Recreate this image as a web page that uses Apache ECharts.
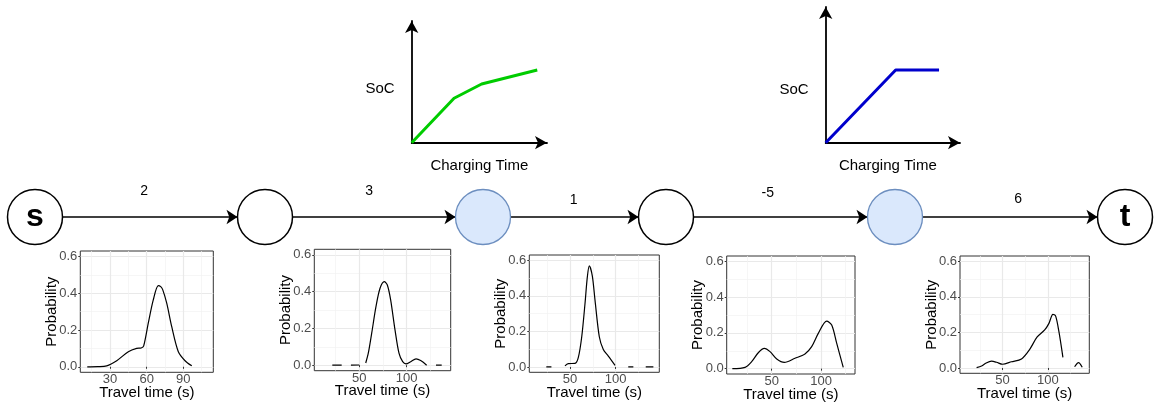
<!DOCTYPE html>
<html><head><meta charset="utf-8">
<script src="https://cdn.jsdelivr.net/npm/echarts@6/dist/echarts.min.js"></script>
<style>html,body{margin:0;padding:0;background:#fff}#c{width:1168px;height:409px}</style>
</head><body><div id="c"></div>
<script>
// ---------------- data ----------------
const nodeLabels = ['s', '', '', '', '', 't'];
const chargingNodes = [false, false, true, false, true, false];
const edgeWeights = [2, 3, 1, -5, 6];

const socName = 'SoC';
const chargeName = 'Charging Time';
const socCurveA = [[0, 0], [3.13, 3.65], [5.17, 4.82], [9.28, 5.97]];
const socCurveB = [[0, 0], [5.21, 5.36], [8.44, 5.36]];

const probName = 'Probability';
const travelName = 'Travel time (s)';
const probTicks = [0, 0.2, 0.4, 0.6];
const probMinor = [0.1, 0.3, 0.5];
const travelTicks1 = [30, 60, 90];
const travelMinor1 = [15, 45, 75, 105];
const travelTicks = [50, 100];
const travelMinor = [25, 75, 125];

const density1 = [
  [[11.4,0],[20,0.001],[27.3,0.005],[35.5,0.033],[45,0.082],[51.8,0.1],[55.5,0.102],[57.5,0.112],[61.3,0.237],[65.4,0.364],[69.5,0.442],[71.5,0.436],[73.1,0.42],[76.4,0.346],[80.5,0.218],[85.9,0.082],[91.4,0.033],[96.9,0.005]]
];
const density2 = [
  [[21.5,0],[31.4,0]],
  [[41.2,0],[50,0.001]],
  [[56.8,0.012],[59.5,0.065],[63.1,0.174],[67.6,0.318],[71.9,0.418],[76.4,0.454],[79.6,0.436],[83.1,0.355],[87.7,0.192],[91.9,0.065],[95.8,0.019],[99.3,0.007],[104.3,0.019],[109.9,0.034],[114.8,0.025],[121.1,0]],
  [[131,0],[137,0]]
];
const density3 = [
  [[24,0],[29.6,0]],
  [[44.5,0.006],[48.1,0.019],[55.5,0.02],[59.1,0.052],[62.9,0.17],[66.5,0.357],[69,0.504],[71.2,0.569],[74.5,0.513],[77.5,0.375],[82.2,0.17],[86.6,0.098],[92.1,0.061],[99.5,0.009]],
  [[114,0],[119.6,0]],
  [[133.2,0],[141.6,0]]
];
const density4 = [
  [[10.1,0],[23,0.007],[29.7,0.039],[36.4,0.089],[42.5,0.113],[48.3,0.095],[55.1,0.054],[62.8,0.035],[73.6,0.058],[83.7,0.082],[90.5,0.123],[97.2,0.197],[105.7,0.266],[110.8,0.244],[115.9,0.141],[122.5,0.007]]
];
const density5 = [
  [[21.4,0.002],[26.9,0.011],[32,0.028],[37.9,0.038],[43.4,0.032],[50,0.021],[59.9,0.035],[70.9,0.051],[80,0.105],[88,0.173],[96.5,0.214],[101.2,0.251],[105.6,0.302],[108.6,0.292],[112.2,0.204],[116.6,0.06]],
  [[129.5,0.007],[133.8,0.03],[137.9,0.004]]
];

// ---------------- layout (not data) ----------------
const FONT = "'Liberation Sans', Arial, Helvetica, sans-serif";
const nodeX = [35, 265, 483, 666, 895, 1125];
const nodeY = 217;
const edgeLabelOffsets = [[8, -14], [9, -14], [13, -5], [1, -12], [22, -6]];

const panels = [
  {rect: [80.3, 251, 133, 121.3], x: [5.7, 114.5], ticks: travelTicks1, minor: travelMinor1, data: density1},
  {rect: [314.3, 249.3, 136.4, 121.4], x: [2.5, 146.5], ticks: travelTicks, minor: travelMinor, data: density2},
  {rect: [529.3, 255, 130, 117.3], x: [5.3, 148.1], ticks: travelTicks, minor: travelMinor, data: density3},
  {rect: [726.7, 256, 128.3, 118], x: [4.4, 134.4], ticks: travelTicks, minor: travelMinor, data: density4},
  {rect: [960, 256, 129.3, 117.3], x: [3.1, 145.7], ticks: travelTicks, minor: travelMinor, data: density5}
];

const grid = [], xAxis = [], yAxis = [], series = [];

// canvas grid for the network
grid.push({left: 0, top: 0, right: 0, bottom: 0, show: false});
xAxis.push({gridIndex: 0, type: 'value', min: 0, max: 1168, show: false});
yAxis.push({gridIndex: 0, type: 'value', min: 0, max: 409, inverse: true, show: false});

// SoC charts
function socAxes(gi, rect, curve, color, nameLH, xNamePad) {
  grid.push({left: rect[0], top: rect[1], width: rect[2], height: rect[3], show: false});
  const line = {show: true, symbol: ['none', 'arrow'], symbolSize: [10, 12], lineStyle: {color: '#000', width: 1.8}};
  xAxis.push({gridIndex: gi, type: 'value', min: 0, max: 10, axisLine: line, axisTick: {show: false},
    axisLabel: {show: false}, splitLine: {show: false}, nameMoveOverlap: false,
    name: chargeName, nameLocation: 'middle', nameGap: 16,
    nameTextStyle: {fontSize: 15, color: '#000', fontFamily: FONT, padding: xNamePad}});
  yAxis.push({gridIndex: gi, type: 'value', min: 0, max: 10, axisLine: line, axisTick: {show: false},
    axisLabel: {show: false}, splitLine: {show: false}, nameMoveOverlap: false,
    name: socName, nameLocation: 'middle', nameRotate: 0, nameGap: 17,
    nameTextStyle: {fontSize: 15, color: '#000', fontFamily: FONT, verticalAlign: 'top', lineHeight: nameLH}});
  series.push({type: 'line', xAxisIndex: gi, yAxisIndex: gi, data: curve, showSymbol: false, silent: true,
    lineStyle: {color: color, width: 3}, z: 3});
}
socAxes(1, [411.7, 21, 135.3, 121.7], socCurveA, '#00cc00', 14, [0, 0, 0, 0]);
socAxes(2, [825.7, 7, 134.3, 135.7], socCurveB, '#0000cc', 30, [0, 10, 0, 0]);

// density panels
panels.forEach((p, k) => {
  const gi = 3 + k;
  const ax = 3 + 2 * k;
  grid.push({left: p.rect[0], top: p.rect[1], width: p.rect[2], height: p.rect[3], show: true,
    borderColor: '#333', borderWidth: 1, backgroundColor: 'transparent'});
  xAxis.push({gridIndex: gi, type: 'value', min: p.x[0], max: p.x[1],
    axisLine: {show: false}, nameMoveOverlap: false,
    axisTick: {show: true, length: 2, lineStyle: {color: '#333'}, customValues: p.ticks},
    axisLabel: {show: true, customValues: p.ticks, color: '#4D4D4D', fontSize: 13, margin: 1, fontFamily: FONT},
    splitLine: {show: true, lineStyle: {color: '#E9E9E9', width: 1.2}},
    name: travelName, nameLocation: 'middle', nameGap: 13,
    nameTextStyle: {fontSize: 15, color: '#000', fontFamily: FONT}});
  xAxis.push({gridIndex: gi, type: 'value', min: p.x[0], max: p.x[1],
    axisLine: {show: false}, axisTick: {show: false, customValues: p.minor}, axisLabel: {show: false},
    splitLine: {show: true, lineStyle: {color: '#F2F2F2', width: 0.7}}});
  yAxis.push({gridIndex: gi, type: 'value', min: -0.03, max: 0.63,
    axisLine: {show: false}, nameMoveOverlap: false,
    axisTick: {show: true, length: 2, lineStyle: {color: '#333'}, customValues: probTicks},
    axisLabel: {show: true, customValues: probTicks, color: '#4D4D4D', fontSize: 13, margin: 3, fontFamily: FONT,
      formatter: v => Number(v).toFixed(1)},
    splitLine: {show: true, lineStyle: {color: '#E9E9E9', width: 1.2}},
    name: probName, nameLocation: 'middle', nameGap: 21,
    nameTextStyle: {fontSize: 15, color: '#000', fontFamily: FONT}});
  yAxis.push({gridIndex: gi, type: 'value', min: -0.03, max: 0.63,
    axisLine: {show: false}, axisTick: {show: false, customValues: probMinor}, axisLabel: {show: false},
    splitLine: {show: true, lineStyle: {color: '#F2F2F2', width: 0.7}}});
  p.data.forEach(seg => {
    series.push({type: 'line', xAxisIndex: ax, yAxisIndex: ax, data: seg, showSymbol: false, silent: true,
      smooth: 0.3, lineStyle: {color: '#000', width: 1.2}, z: 3});
  });
});

// network graph
series.push({
  type: 'graph', coordinateSystem: 'cartesian2d', xAxisIndex: 0, yAxisIndex: 0, z: 5,
  symbol: 'circle', symbolSize: 55,
  edgeSymbol: ['none', 'arrow'], edgeSymbolSize: [0, 11],
  data: nodeLabels.map((n, i) => ({
    name: 'node' + i, value: [nodeX[i], nodeY],
    itemStyle: chargingNodes[i] ? {color: '#dae8fc', borderColor: '#6c8ebf', borderWidth: 1.3}
                                : {color: '#ffffff', borderColor: '#000', borderWidth: 1.5},
    label: n ? {show: true, formatter: n} : {show: false}
  })),
  label: {position: 'inside', fontSize: 32, fontWeight: 'bold', color: '#000', fontFamily: FONT},
  links: edgeWeights.map((w, i) => ({source: i, target: i + 1, value: w,
    label: {show: true, formatter: String(w), offset: edgeLabelOffsets[i]}})),
  edgeLabel: {show: true, position: 'middle', fontSize: 14, color: '#000', fontFamily: FONT},
  lineStyle: {color: '#000', width: 1.5, opacity: 1, curveness: 0},
  emphasis: {disabled: true}
});

const chart = echarts.init(document.getElementById('c'), null, {renderer: 'canvas'});
chart.setOption({animation: false, backgroundColor: '#fff', textStyle: {fontFamily: FONT},
  grid, xAxis, yAxis, series});
</script></body></html>
